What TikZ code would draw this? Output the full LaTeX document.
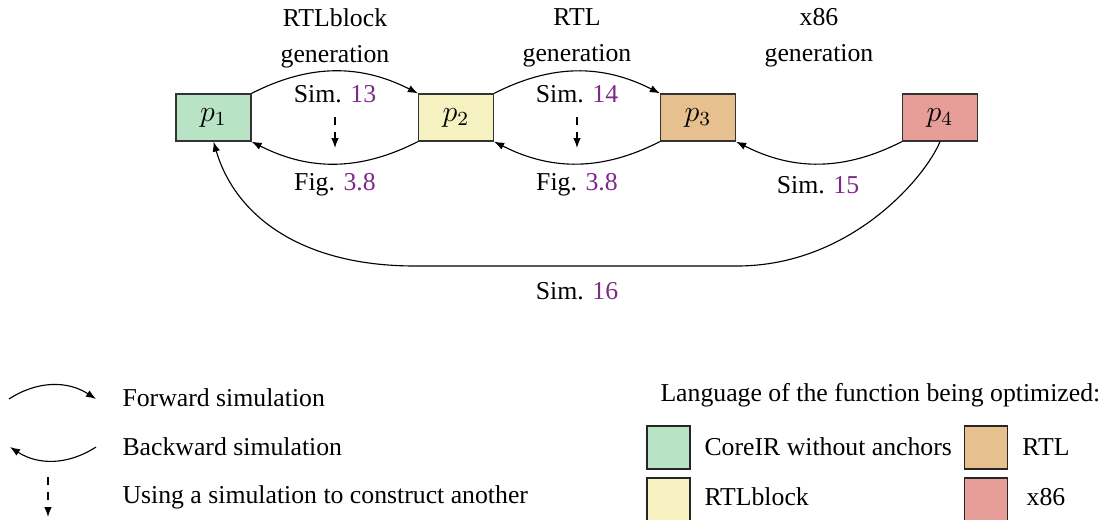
\documentclass[tikz,border=0pt]{standalone}
\usepackage{fontspec}
\setmainfont{Liberation Serif}
\usetikzlibrary{arrows.meta}
\definecolor{cgreen}{RGB}{184,227,197}
\definecolor{cyellow}{RGB}{245,241,192}
\definecolor{corange}{RGB}{230,192,142}
\definecolor{cred}{RGB}{231,158,152}
\definecolor{lnk}{RGB}{126,42,136}
\newcommand{\lk}[1]{\textcolor{lnk}{#1}}
\tikzset{
  x=0.4pt, y=-0.4pt,
  every node/.style={font=\fontsize{10.3}{14.4}\selectfont, inner sep=0pt},
  prog/.style={draw=black!80, line width=0.5pt, minimum width=30pt, minimum height=18.8pt, font=\fontsize{12}{14}\selectfont},
  swatch/.style={draw=black!85, line width=0.5pt, minimum width=17.2pt, minimum height=17.2pt},
  conn/.style={line width=0.45pt, -{Latex[length=4pt,width=3pt]}},
  dconn/.style={line width=0.45pt, dash pattern=on 3pt off 3pt, -{Latex[length=4pt,width=3pt]}},
  lbl/.style={align=center},
  leg/.style={anchor=west}
}
\begin{document}
\begin{tikzpicture}
\useasboundingbox (0,0) rectangle (1102,520);
% program boxes
\node[prog, fill=cgreen]  (p1) at (213.5,117.5) {$p_1$};
\node[prog, fill=cyellow] (p2) at (456,117.5) {$p_2$};
\node[prog, fill=corange] (p3) at (698,117.5) {$p_3$};
\node[prog, fill=cred]    (p4) at (940,117.5) {$p_4$};
% top labels
\node[lbl] (g1) at (335,38) {RTLblock\\generation};
\node[lbl] (g2) at (577,38) {RTL\\generation};
\node[lbl] (g3) at (819,38) {x86\\generation};
% sim labels
\node (s13) at (335,94) {Sim. \lk{13}};
\node (s14) at (577,94) {Sim. \lk{14}};
\node (f1) at (335,185) {Fig. \lk{3.8}};
\node (f2) at (577,185) {Fig. \lk{3.8}};
\node (s15) at (818,185) {Sim. \lk{15}};
\node (s16) at (577,291) {Sim. \lk{16}};
% connectors
\draw[conn] (p1.north east) to[bend left=27] (p2.north west);
\draw[conn] (p2.south west) to[bend left=27] (p1.south east);
\draw[conn] (p2.north east) to[bend left=27] (p3.north west);
\draw[conn] (p3.south west) to[bend left=27] (p2.south east);
\draw[conn] (p4.south west) to[bend left=27] (p3.south east);
\draw[conn] (p4.south) .. controls (925,178) and (850,266) .. (737,266) -- (415,266)
  .. controls (300,266) and (235,215) .. (p1.south);
% dashed derivation arrows
\coordinate (d1a) at (335,117);
\coordinate (d1b) at (335,148);
\coordinate (d2a) at (577,117);
\coordinate (d2b) at (577,148);
\draw[dconn] (d1a) -- (d1b);
\draw[dconn] (d2a) -- (d2b);
% legend left
\coordinate (fa) at (9,399);
\coordinate (fb) at (96,399);
\coordinate (ba) at (96,447);
\coordinate (bb) at (10,447);
\coordinate (da) at (48,477);
\coordinate (db) at (48,517);
\draw[conn] (fa) to[bend left=33] (fb);
\draw[conn] (ba) to[bend left=33] (bb);
\draw[dconn] (da) -- (db);
\node[leg] (lf) at (122,398) {Forward simulation};
\node[leg] (lb) at (122,447) {Backward simulation};
\node[leg] (lu) at (122,497) {Using a simulation to construct another};
% legend right
\node[leg] (lt) at (660,395) {Language of the function being optimized:};
\node[swatch, fill=cgreen]  (sq1) at (668.5,447.5) {};
\node[swatch, fill=cyellow] (sq2) at (668.5,499.5) {};
\node[swatch, fill=corange] (sq3) at (986,447.5) {};
\node[swatch, fill=cred]    (sq4) at (986,499.5) {};
\node[leg] (t1) at (704,447) {CoreIR without anchors};
\node[leg] (t2) at (704,497) {RTLblock};
\node (t3) at (1046,447) {RTL};
\node (t4) at (1046,497) {x86};
\end{tikzpicture}
\end{document}
